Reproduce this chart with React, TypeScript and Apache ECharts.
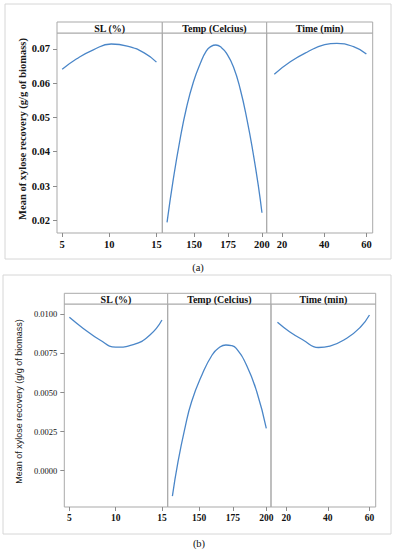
import React, { useEffect, useRef } from "react";
import * as echarts from "echarts";

// ---- Data ----
// (a) panel
const slA_x = [5, 6.5, 8.3, 10.2, 11.9, 13.7, 15];
const slA_y = [0.064, 0.067, 0.0697, 0.0714, 0.0708, 0.0688, 0.0661];
const tempA_x = [130, 134.5, 139.5, 144.5, 149.5, 154.5, 159, 162.5, 166, 170, 174, 179, 184, 189, 193.5, 197.5, 200];
const tempA_y = [0.0194, 0.0317, 0.0434, 0.0531, 0.0604, 0.0657, 0.0694, 0.0707, 0.0711, 0.0704, 0.0686, 0.0647, 0.0582, 0.0493, 0.0396, 0.0296, 0.0222];
const timeA_x = [16.3, 23.9, 31.8, 40.2, 46, 53.9, 60];
const timeA_y = [0.0626, 0.0662, 0.069, 0.0712, 0.0716, 0.0706, 0.0685];

// (b) panel
const slB_x = [5, 6.5, 8.3, 10, 11.9, 13.7, 15];
const slB_y = [0.00981, 0.0091, 0.00836, 0.0079, 0.00806, 0.00868, 0.00964];
const tempB_x = [130, 134.2, 139.3, 144.3, 152, 159.6, 165, 169.9, 174, 177.6, 185.2, 192.9, 200];
const tempB_y = [-0.00162, 0.00058, 0.00271, 0.00441, 0.00612, 0.0074, 0.00788, 0.00804, 0.008, 0.00782, 0.00676, 0.00505, 0.00271];
const timeB_x = [15.8, 21.6, 28.1, 35.5, 41, 49.1, 55.6, 60];
const timeB_y = [0.00949, 0.00889, 0.00836, 0.00788, 0.00797, 0.00847, 0.00917, 0.00996];

const factorNames = ["SL (%)", "Temp (Celcius)", "Time (min)"];
const slTicks = [5, 10, 15];
const tempTicks = [150, 175, 200];
const timeTicks = [20, 40, 60];
const yTicksA = [0.02, 0.03, 0.04, 0.05, 0.06, 0.07];
const yTicksB = [0, 0.0025, 0.005, 0.0075, 0.01];
const yAxisTitle = "Mean of xylose recovery (g/g of biomass)";
const captions = ["(a)", "(b)"];

const SERIF = "'Liberation Serif', 'Times New Roman', serif";
const SANS = "'Liberation Sans', Arial, sans-serif";
const LINE = "#4a86c8";
const BORDER = "#a9a9a9";

function zip(xs: number[], ys: number[]) {
  return xs.map((x, i) => [x, ys[i]]);
}

function buildOption() {
  const xRanges = [
    [4.45, 15.62],
    [126.5, 203.5],
    [12.7, 63],
  ];
  const xTicks = [slTicks, tempTicks, timeTicks];

  const charts = [
    {
      panels: [
        { left: 57, width: 105.3 },
        { left: 162.3, width: 104.4 },
        { left: 266.7, width: 106 },
      ],
      headerTop: 22,
      top: 33,
      bottom: 233,
      yMin: 0.0163,
      yMax: 0.0746,
      yTicks: yTicksA,
      yDigits: 2,
      data: [zip(slA_x, slA_y), zip(tempA_x, tempA_y), zip(timeA_x, timeA_y)],
      frame: { x: 5, y: 4, w: 386, h: 255 },
      caption: { x: 198, y: 267 },
      titleX: 22,
      titleFont: { fontFamily: SERIF, fontWeight: "bold", fontSize: 10.5 },
      yLabelFont: { fontFamily: SERIF, fontWeight: "bold", fontSize: 10.5 },
      xLabelFont: { fontFamily: SERIF, fontWeight: "bold", fontSize: 10.5 },
    },
    {
      panels: [
        { left: 64.3, width: 103.4 },
        { left: 167.7, width: 103.3 },
        { left: 271, width: 104.7 },
      ],
      headerTop: 293.3,
      top: 304,
      bottom: 507,
      yMin: -0.00232,
      yMax: 0.01066,
      yTicks: yTicksB,
      yDigits: 4,
      data: [zip(slB_x, slB_y), zip(tempB_x, tempB_y), zip(timeB_x, timeB_y)],
      frame: { x: 3, y: 275, w: 388, h: 259 },
      caption: { x: 199, y: 543 },
      titleX: 19,
      titleFont: { fontFamily: SANS, fontWeight: "normal", fontSize: 9 },
      yLabelFont: { fontFamily: SERIF, fontWeight: "normal", fontSize: 8.5 },
      xLabelFont: { fontFamily: SERIF, fontWeight: "bold", fontSize: 9.5 },
    },
  ];

  const grid: any[] = [];
  const xAxis: any[] = [];
  const yAxis: any[] = [];
  const series: any[] = [];
  const graphic: any[] = [];

  charts.forEach((c, ci) => {
    graphic.push({
      type: "rect",
      shape: { x: c.frame.x, y: c.frame.y, width: c.frame.w, height: c.frame.h },
      style: { fill: "none", stroke: "#d6d6d6", lineWidth: 1 },
      silent: true,
    });
    graphic.push({
      type: "text",
      x: c.caption.x,
      y: c.caption.y,
      style: {
        text: captions[ci],
        fontFamily: SERIF,
        fontSize: 10.5,
        fill: "#111",
        textAlign: "center",
        textVerticalAlign: "middle",
      },
    });
    graphic.push({
      type: "text",
      x: c.titleX,
      y: (c.top + c.bottom) / 2 - 4,
      rotation: Math.PI / 2,
      style: {
        text: yAxisTitle,
        ...c.titleFont,
        fill: "#1a1a1a",
        textAlign: "center",
        textVerticalAlign: "middle",
      },
    });

    c.panels.forEach((p, pi) => {
      const idx = grid.length;
      grid.push({
        left: p.left,
        top: c.top,
        width: p.width,
        height: c.bottom - c.top,
        show: true,
        borderColor: BORDER,
        borderWidth: 1,
        backgroundColor: "transparent",
        containLabel: false,
      });
      graphic.push({
        type: "rect",
        shape: { x: p.left, y: c.headerTop, width: p.width, height: c.top - c.headerTop },
        style: { fill: "#fff", stroke: BORDER, lineWidth: 1 },
        silent: true,
      });
      graphic.push({
        type: "text",
        x: p.left + p.width / 2,
        y: (c.headerTop + c.top) / 2 + 0.5,
        style: {
          text: factorNames[pi],
          fontFamily: SERIF,
          fontWeight: "bold",
          fontSize: 10,
          fill: "#111",
          textAlign: "center",
          textVerticalAlign: "middle",
        },
      });
      xAxis.push({
        type: "value",
        gridIndex: idx,
        position: "bottom",
        min: xRanges[pi][0],
        max: xRanges[pi][1],
        axisLine: { show: false, onZero: false },
        splitLine: { show: false },
        axisTick: {
          show: true,
          length: 4,
          lineStyle: { color: "#8c8c8c" },
          customValues: xTicks[pi],
        },
        axisLabel: {
          customValues: xTicks[pi],
          margin: 6,
          color: "#111",
          ...c.xLabelFont,
          formatter: (v: number) => String(v),
        },
      });
      yAxis.push({
        type: "value",
        gridIndex: idx,
        position: "left",
        min: c.yMin,
        max: c.yMax,
        axisLine: { show: false, onZero: false },
        splitLine: { show: false },
        axisTick: {
          show: pi === 0,
          length: 4,
          lineStyle: { color: "#8c8c8c" },
          customValues: c.yTicks,
        },
        axisLabel: {
          show: pi === 0,
          customValues: c.yTicks,
          margin: 7,
          color: "#111",
          ...c.yLabelFont,
          formatter: (v: number) => v.toFixed(c.yDigits),
        },
      });
      series.push({
        type: "line",
        xAxisIndex: idx,
        yAxisIndex: idx,
        data: c.data[pi],
        showSymbol: false,
        smooth: true,
        lineStyle: { color: LINE, width: 1.3 },
        silent: true,
      });
    });
  });

  return {
    animation: false,
    backgroundColor: "#fff",
    grid,
    xAxis,
    yAxis,
    series,
    graphic,
  };
}

export default function App() {
  const ref = useRef<HTMLDivElement>(null);
  useEffect(() => {
    document.body.style.margin = "0";
    const chart = echarts.init(ref.current as HTMLDivElement, null, { renderer: "svg" });
    chart.setOption(buildOption() as any);
    return () => chart.dispose();
  }, []);
  return <div ref={ref} style={{ width: 397, height: 550, background: "#fff" }} />;
}
